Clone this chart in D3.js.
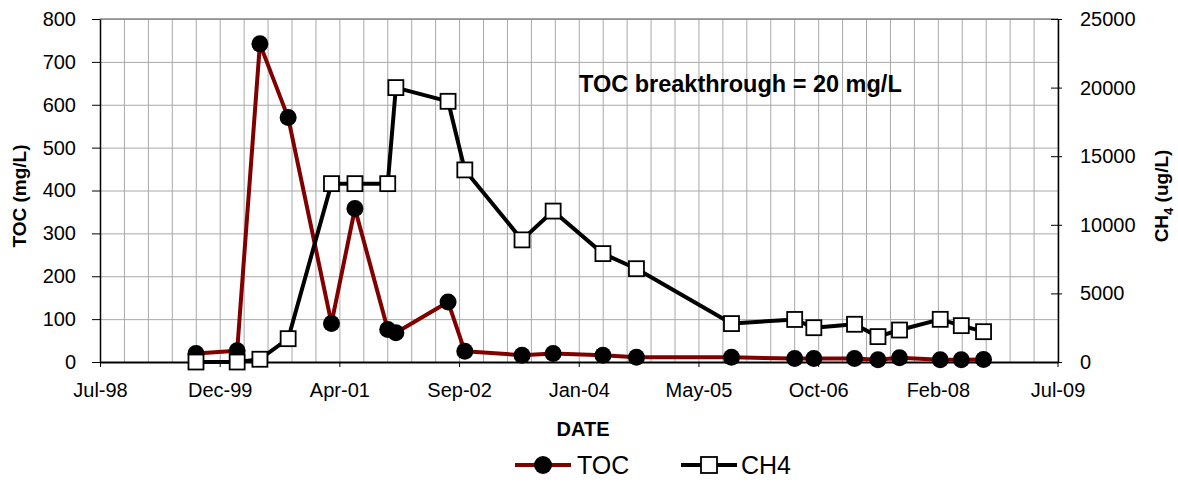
<!DOCTYPE html>
<html>
<head>
<meta charset="utf-8">
<script src="https://cdn.jsdelivr.net/npm/d3@7"></script>
<style>
    body { margin: 0; background: #fff; }
    svg { display: block; font-family: "Liberation Sans", Arial, sans-serif; }
    .grid line { stroke: #a8a8a8; stroke-width: 1; }
    .grid path { display: none; }
    .axis path, .axis line { stroke: #000; }
    .axis text { font-size: 20px; fill: #000; }
    .title { font-weight: bold; fill: #000; }
</style>
</head>
<body>
<svg id="chart" width="1178" height="482"></svg>
<script>
const sampleDates = [
    "1999-08-29", "2000-02-17", "2000-05-22", "2000-09-17", "2001-03-17", "2001-06-23",
    "2001-11-07", "2001-12-11", "2002-07-17", "2002-09-25", "2003-05-22", "2003-09-29",
    "2004-04-24", "2004-09-11", "2005-10-13", "2006-07-04", "2006-09-22", "2007-03-11",
    "2007-06-17", "2007-09-15", "2008-03-03", "2008-05-30", "2008-08-31"
];
const tocValues = [20, 26, 742, 570, 90, 358, 76, 68, 140, 25, 16, 20, 16, 11, 11, 8, 8, 8, 5, 10, 5, 5, 6];
const ch4Values = [0, 0, 200, 1700, 13000, 13000, 13000, 20000, 19000, 14000, 8900, 11000, 7900, 6800,
    2800, 3100, 2500, 2750, 1850, 2330, 3110, 2650, 2210];

// Axis settings
const xDomain = ["1998-07-24", "2009-07-08"];
const xTickLabels = ["Jul-98", "Dec-99", "Apr-01", "Sep-02", "Jan-04", "May-05", "Oct-06", "Feb-08", "Jul-09"];
const xMajorStep = 500;  // days
const xMinorStep = 100;  // days
const tocTicks = [0, 100, 200, 300, 400, 500, 600, 700, 800];
const ch4Ticks = [0, 5000, 10000, 15000, 20000, 25000];

const margin = { top: 19, right: 120, bottom: 120, left: 100 };
const totalW = 1178, totalH = 482;
const width = 1058 - margin.left;
const height = 362 - margin.top;

const parse = d3.utcParse("%Y-%m-%d");
const data = sampleDates.map((d, i) => ({ date: parse(d), toc: tocValues[i], ch4: ch4Values[i] }));

const svg = d3.select("#chart");
svg.append("rect").attr("width", totalW).attr("height", totalH).attr("fill", "#fff");

const g = svg.append("g").attr("transform", `translate(${margin.left},${margin.top})`);

const start = parse(xDomain[0]);
const end = parse(xDomain[1]);
const xScale = d3.scaleUtc().domain([start, end]).range([0, width]);
const yLeft = d3.scaleLinear().domain([0, 800]).range([height, 0]);
const yRight = d3.scaleLinear().domain([0, 25000]).range([height, 0]);

const daysSpan = Math.round((end - start) / 864e5);
const majorDates = d3.range(0, daysSpan + 1, xMajorStep).map(n => d3.utcDay.offset(start, n));
const minorDates = d3.range(0, daysSpan + 1, xMinorStep).map(n => d3.utcDay.offset(start, n));

// Grid
g.append("g").attr("class", "grid")
    .attr("transform", `translate(0,${height})`)
    .call(d3.axisBottom(xScale).tickValues(minorDates).tickSize(-height).tickFormat(""));
g.append("g").attr("class", "grid")
    .call(d3.axisLeft(yLeft).tickValues(tocTicks).tickSize(-width).tickFormat(""));

// Top border
g.append("line").attr("x1", 0).attr("x2", width).attr("y1", 0).attr("y2", 0)
    .attr("stroke", "#888").attr("stroke-width", 1.5);

// Axes
const axisL = g.append("g").attr("class", "axis")
    .call(d3.axisLeft(yLeft).tickValues(tocTicks).tickSize(8).tickPadding(16).tickSizeOuter(0));
axisL.select(".domain").attr("stroke-width", 1.5);

const axisR = g.append("g").attr("class", "axis")
    .attr("transform", `translate(${width},0)`)
    .call(d3.axisRight(yRight).tickValues(ch4Ticks).tickSize(4).tickPadding(18).tickSizeOuter(0)
        .tickFormat(d3.format("d")));
axisR.select(".domain").attr("stroke-width", 1.5);
axisR.selectAll(".tick line").attr("x1", -7);

const axisB = g.append("g").attr("class", "axis")
    .attr("transform", `translate(0,${height})`)
    .call(d3.axisBottom(xScale).tickValues(majorDates).tickSize(5).tickPadding(16).tickSizeOuter(0)
        .tickFormat((d, i) => xTickLabels[i]));
axisB.select(".domain").attr("stroke-width", 2);

// Lines
const tocLine = d3.line().x(d => xScale(d.date)).y(d => yLeft(d.toc));
const ch4Line = d3.line().x(d => xScale(d.date)).y(d => yRight(d.ch4));

g.append("path").datum(data).attr("d", tocLine)
    .attr("fill", "none").attr("stroke", "#800000").attr("stroke-width", 4).attr("stroke-linejoin", "round");
g.selectAll(".toc-dot").data(data).enter().append("circle")
    .attr("class", "toc-dot")
    .attr("cx", d => xScale(d.date)).attr("cy", d => yLeft(d.toc))
    .attr("r", 8.5).attr("fill", "#000");

g.append("path").datum(data).attr("d", ch4Line)
    .attr("fill", "none").attr("stroke", "#000").attr("stroke-width", 4).attr("stroke-linejoin", "round");
const sq = 15;
g.selectAll(".ch4-dot").data(data).enter().append("rect")
    .attr("class", "ch4-dot")
    .attr("x", d => xScale(d.date) - sq / 2).attr("y", d => yRight(d.ch4) - sq / 2)
    .attr("width", sq).attr("height", sq)
    .attr("fill", "#fff").attr("stroke", "#000").attr("stroke-width", 1.8);

// Annotation
g.append("text").attr("class", "title")
    .attr("x", 579 - margin.left).attr("y", 92 - margin.top)
    .style("font-size", "23.5px")
    .text("TOC breakthrough = 20 mg/L");

// Axis titles
svg.append("text").attr("class", "title")
    .attr("transform", "translate(26,196) rotate(-90)")
    .attr("text-anchor", "middle").style("font-size", "19px")
    .text("TOC (mg/L)");

const rt = svg.append("text").attr("class", "title")
    .attr("transform", "translate(1168,196) rotate(-90)")
    .attr("text-anchor", "middle").style("font-size", "19px");
rt.append("tspan").text("CH");
rt.append("tspan").attr("dy", 5).style("font-size", "13px").text("4");
rt.append("tspan").attr("dy", -5).text(" (ug/L)");

svg.append("text").attr("class", "title")
    .attr("x", 583).attr("y", 436).attr("text-anchor", "middle")
    .style("font-size", "20px")
    .text("DATE");

// Legend
const legend = svg.append("g").attr("transform", "translate(0,465)");
legend.append("line").attr("x1", 515).attr("x2", 571).attr("stroke", "#800000").attr("stroke-width", 4);
legend.append("circle").attr("cx", 543).attr("r", 9).attr("fill", "#000");
legend.append("text").attr("x", 577).attr("y", 8.5).style("font-size", "25px").text("TOC");

legend.append("line").attr("x1", 681).attr("x2", 737).attr("stroke", "#000").attr("stroke-width", 4);
legend.append("rect").attr("x", 709 - 8).attr("y", -8).attr("width", 16).attr("height", 16)
    .attr("fill", "#fff").attr("stroke", "#000").attr("stroke-width", 1.8);
legend.append("text").attr("x", 741).attr("y", 8.5).style("font-size", "25px").text("CH4");
</script>
</body>
</html>
